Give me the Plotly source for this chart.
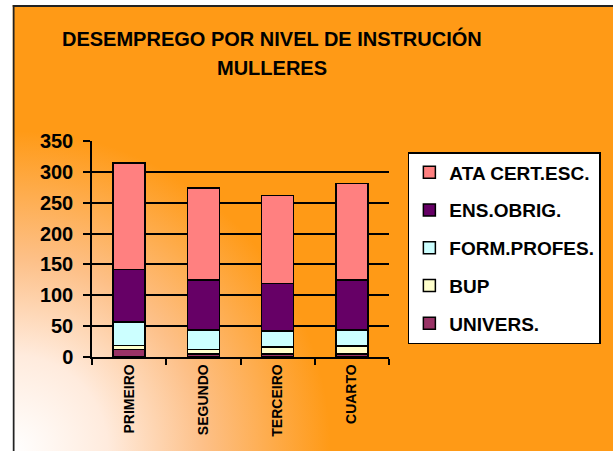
import base64
import plotly.graph_objects as go

categories = ["PRIMEIRO", "SEGUNDO", "TERCEIRO", "CUARTO"]
univers = [12, 5, 5, 5]
bup = [7, 7, 11, 13]
form_profes = [38, 32, 26, 26]
ens_obrig = [85, 81, 77, 81]
ata_cert = [172, 149, 143, 156]
title_lines = ["DESEMPREGO POR NIVEL DE INSTRUCIÓN", "MULLERES"]

series = [
    ("UNIVERS.", univers, "#993366"),
    ("BUP", bup, "#FFFFCC"),
    ("FORM.PROFES.", form_profes, "#CCFFFF"),
    ("ENS.OBRIG.", ens_obrig, "#660066"),
    ("ATA CERT.ESC.", ata_cert, "#FF8080"),
]

W, H = 613, 451
L, R, T, B = 92, 391, 141, 357  # plot area in pixels
pw, ph = R - L, B - T

# background gradient image (frame area from x=12, y=5)
fx, fy = 12, 5
iw, ih = W - fx + 20, H - fy + 20
cy = H - fy
svg = f'''<svg xmlns="http://www.w3.org/2000/svg" width="{iw}" height="{ih}" viewBox="0 0 {iw} {ih}" preserveAspectRatio="none">
<defs><radialGradient id="g" gradientUnits="userSpaceOnUse" cx="0" cy="{cy}" r="320">
<stop offset="0" stop-color="#FFFFFF"/><stop offset="0.3" stop-color="#FFEBDD"/><stop offset="0.6" stop-color="#FDC088"/><stop offset="1" stop-color="#FF9A16"/></radialGradient></defs>
<rect x="0" y="0" width="{iw}" height="{ih}" fill="url(#g)"/>
<line x1="1" y1="0" x2="1" y2="{ih}" stroke="#222" stroke-width="2"/>
<line x1="0" y1="1" x2="{iw}" y2="1" stroke="#222" stroke-width="2"/>
</svg>'''
uri = "data:image/svg+xml;base64," + base64.b64encode(svg.encode()).decode()

fig = go.Figure()
for i, (name, vals, col) in enumerate(series):
    fig.add_trace(go.Bar(
        x=categories, y=vals, name=name, legendgroup=name, legendrank=len(series) - i,
        marker=dict(color=col, line=dict(color="black", width=1.5)),
    ))

title_font = dict(family="Liberation Sans Narrow, Arial Narrow, Liberation Sans, Arial",
                  size=20, color="black", weight="bold")
annotations = [
    dict(text=t, xref="paper", yref="paper", x=(273 - L) / pw, y=(B - yc) / ph,
         xanchor="center", yanchor="middle", showarrow=False, font=title_font)
    for t, yc in zip(title_lines, [39, 68])
]

fig.update_layout(
    width=W, height=H,
    barmode="stack", bargap=0.57,
    margin=dict(l=L, r=W - R, t=T, b=H - B, pad=0),
    paper_bgcolor="white", plot_bgcolor="rgba(0,0,0,0)",
    images=[dict(
        source=uri, xref="paper", yref="paper",
        x=(fx - L) / pw, y=(B - fy) / ph,
        sizex=iw / pw, sizey=ih / ph,
        xanchor="left", yanchor="top", sizing="stretch", layer="below",
    )],
    annotations=annotations,
    legend=dict(
        x=(410 - L) / pw, xanchor="left", y=(B - 152) / ph, yanchor="top",
        bgcolor="white", bordercolor="black", borderwidth=1.5,
        traceorder="grouped", tracegroupgap=10,
        font=dict(family="Liberation Sans, Arial", size=19, color="black", weight="bold"),
    ),
    showlegend=True,
)
fig.update_xaxes(
    type="category", tickson="boundaries", ticks="outside", ticklen=6, tickwidth=1.5, tickcolor="black",
    showline=True, linecolor="black", linewidth=1.5, tickangle=-90,
    tickfont=dict(family="Liberation Sans, Arial", size=14, color="black", weight="bold"),
)
fig.update_yaxes(
    range=[0, 350], dtick=50, ticks="outside", ticklen=7, tickwidth=1.5, tickcolor="black",
    showline=True, linecolor="black", linewidth=1.5,
    showgrid=True, gridcolor="black", gridwidth=1.5, zeroline=False,
    tickfont=dict(family="Liberation Sans, Arial", size=20, color="black", weight="bold"),
    ticklabelstandoff=6,
)

fig.write_html("out.html", config={"displayModeBar": False},
               post_script="document.body.style.margin='0';")
